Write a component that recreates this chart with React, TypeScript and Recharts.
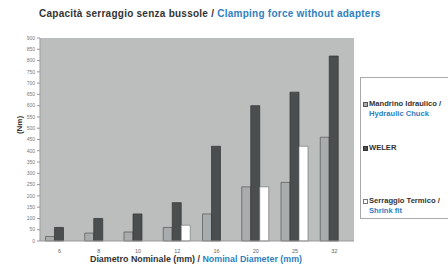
import React from "react";
import { Bar, BarChart, CartesianGrid, Label, XAxis, YAxis } from "recharts";

const diameters = ["6", "8", "10", "12", "16", "20", "25", "32"];
const hydraulic = [20, 35, 40, 60, 120, 240, 260, 460];
const weler = [60, 100, 120, 170, 420, 600, 660, 820];
const shrink = [null, null, null, 70, null, 240, 420, null];
const yTicks = [0, 50, 100, 150, 200, 250, 300, 350, 400, 450, 500, 550, 600, 650, 700, 750, 800, 850, 900];

const FONT = "'Liberation Sans', Arial, sans-serif";
const DARK = "#333";
const BLUE = "#2f7fbf";

const data = diameters.map((d, i) => ({
  name: d,
  hydraulic: hydraulic[i],
  weler: weler[i],
  shrink: shrink[i],
}));

const legendItems = [
  { it: "Mandrino Idraulico /", en: "Hydraulic Chuck", fill: "#a9acac", stroke: "#555", top: 26 },
  { it: "WELER", en: "", fill: "#4b4e4e", stroke: "#333", top: 70 },
  { it: "Serraggio Termico /", en: "Shrink fit", fill: "#fff", stroke: "#777", top: 123 },
];

function LegendBox() {
  return (
    <div
      style={{
        position: "absolute",
        left: 360,
        top: 77,
        border: "1px solid #aaa",
        width: 100,
        height: 142,
        boxSizing: "border-box",
        fontFamily: FONT,
        fontWeight: "bold",
        fontSize: 7.6,
        lineHeight: "10px",
      }}
    >
      {legendItems.map((l, i) => (
        <div key={i} style={{ position: "absolute", left: 2, top: l.top - 5, whiteSpace: "nowrap" }}>
          <div style={{ color: DARK, display: "flex", alignItems: "center" }}>
            <span
              style={{
                display: "inline-block",
                width: 3,
                height: 3,
                background: l.fill,
                border: `1px solid ${l.stroke}`,
                marginRight: 1,
              }}
            />
            {l.it}
          </div>
          {l.en && <div style={{ color: BLUE, paddingLeft: 6 }}>{l.en}</div>}
        </div>
      ))}
    </div>
  );
}

export default function App() {
  return (
    <div style={{ position: "absolute", left: 0, top: 0, width: 448, height: 268, background: "#fff", overflow: "hidden" }}>
      <div
        style={{
          position: "absolute",
          left: 39,
          top: 8,
          fontFamily: FONT,
          fontWeight: "bold",
          fontSize: 10,
          letterSpacing: 0.25,
          whiteSpace: "nowrap",
          color: DARK,
        }}
      >
        Capacità serraggio senza bussole / <span style={{ color: BLUE }}>Clamping force without adapters</span>
      </div>
      <BarChart
        width={448}
        height={268}
        data={data}
        margin={{ top: 38, right: 94, bottom: 0, left: 0 }}
        barCategoryGap="14%"
        barGap={0}
      >
        <CartesianGrid fill="#bcbebe" stroke="#aaa" horizontal={false} vertical={false} />
        <XAxis
          dataKey="name"
          tick={{ fontSize: 5.5, fill: "#666", fontFamily: FONT }}
          tickLine={false}
          axisLine={{ stroke: "#999" }}
          height={27}
        >
          <Label
            position="insideBottom"
            content={() => (
              <text x={196} y={262} textAnchor="middle" fontFamily={FONT} fontWeight="bold" fontSize={8.9} fill={DARK}>
                Diametro Nominale (mm) / <tspan fill={BLUE}>Nominal Diameter (mm)</tspan>
              </text>
            )}
          />
        </XAxis>
        <YAxis
          domain={[0, 900]}
          ticks={yTicks}
          interval={0}
          width={40}
          tickSize={3}
          tick={{ fontSize: 5, fill: "#777", fontFamily: FONT }}
          tickLine={{ stroke: "#999" }}
          axisLine={{ stroke: "#999" }}
        >
          <Label
            content={() => (
              <text
                x={20}
                y={125}
                transform="rotate(-90 20 125)"
                textAnchor="middle"
                dominantBaseline="middle"
                fontFamily={FONT}
                fontWeight="bold"
                fontSize={8}
                fill={DARK}
              >
                (Nm)
              </text>
            )}
          />
        </YAxis>
        <Bar dataKey="hydraulic" fill="#a9acac" stroke="#555" strokeWidth={0.7} isAnimationActive={false} />
        <Bar dataKey="weler" fill="#4b4e4e" stroke="#333" strokeWidth={0.7} isAnimationActive={false} />
        <Bar dataKey="shrink" fill="#ffffff" stroke="#777" strokeWidth={0.7} isAnimationActive={false} />
      </BarChart>
      <LegendBox />
    </div>
  );
}
